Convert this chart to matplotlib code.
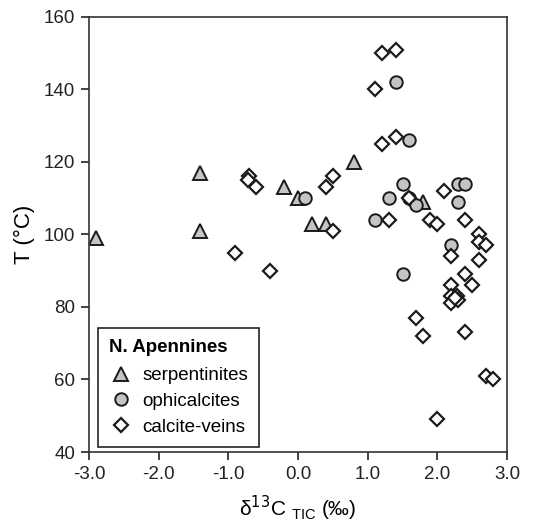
import matplotlib
matplotlib.use("Agg")
import matplotlib.pyplot as plt
from matplotlib.ticker import FormatStrFormatter

plt.rcParams['font.family'] = ['Liberation Sans', 'DejaVu Sans']
plt.rcParams['axes.unicode_minus'] = False

# serpentinites
serp_x = [-2.9, -1.4, -1.4, -0.2, 0.0, 0.2, 0.4, 0.8, 1.8]
serp_t = [99, 117, 101, 113, 110, 103, 103, 120, 109]

# ophicalcites
oph_x = [0.1, 1.1, 1.3, 1.4, 1.6, 1.5, 1.6, 1.7, 1.5, 2.2, 2.3, 2.4, 2.3]
oph_t = [110, 104, 110, 142, 126, 114, 110, 108, 89, 97, 114, 114, 109]

# calcite veins
vein_x = [1.2, 1.4, 1.1, 1.2, 1.4, -0.7, -0.72, -0.6, 0.4, 0.5, 0.5, -0.9, -0.4,
          1.3, 1.6, 1.9, 2.0, 2.1, 2.4, 2.6, 2.6, 2.7, 2.6, 2.2, 2.4, 2.2, 2.5,
          2.2, 2.2, 2.28, 2.3, 2.25, 1.7, 1.8, 2.4, 2.7, 2.8, 2.0]
vein_t = [150, 151, 140, 125, 127, 116, 115, 113, 113, 116, 101, 95, 90,
          104, 110, 104, 103, 112, 104, 100, 98, 97, 93, 94, 89, 86, 86,
          83, 81, 83, 82, 82.5, 77, 72, 73, 61, 60, 49]

fig = plt.figure(figsize=(5.35, 5.24), dpi=100)
ax = fig.add_axes([0.1664, 0.1374, 0.7813, 0.8302])

edge = '#1a1a1a'
fill = '#c4c4c4'
ax.plot(serp_x, serp_t, ls='none', marker='^', ms=10, mfc=fill, mec=edge, mew=1.4,
        label='serpentinites')
ax.plot(oph_x, oph_t, ls='none', marker='o', ms=9, mfc=fill, mec=edge, mew=1.4,
        label='ophicalcites')
ax.plot(vein_x, vein_t, ls='none', marker='D', ms=7.5, mfc='white', mec=edge, mew=1.6,
        label='calcite-veins')

ax.set_xlim(-3, 3)
ax.set_ylim(40, 160)
ax.set_xticks([-3, -2, -1, 0, 1, 2, 3])
ax.set_yticks([40, 60, 80, 100, 120, 140, 160])
ax.xaxis.set_major_formatter(FormatStrFormatter('%.1f'))
ax.tick_params(direction='out', length=6, width=1.2, labelsize=13.5, colors='#222222', pad=4)
for s in ax.spines.values():
    s.set_color('#333333')
    s.set_linewidth(1.2)

ax.set_ylabel('T (°C)', fontsize=16, labelpad=6)
ax.set_xlabel(r'δ$^{13}$C $_{\mathregular{TIC}}$ (‰)', fontsize=15, labelpad=8)

# legend box in the lower left corner
leg = ax.legend(loc='lower left', bbox_to_anchor=(0.022, 0.012), borderaxespad=0,
                title='N. Apennines',
                fontsize=13.5, title_fontproperties={'weight': 'bold', 'size': 13.5},
                fancybox=False, edgecolor='#222222', framealpha=1,
                handlelength=1.2, handletextpad=0.55, borderpad=0.6, labelspacing=0.45)
leg._legend_box.align = 'left'
leg._legend_box.sep = 8
leg.get_frame().set_linewidth(1.2)

fig.savefig('out.png', dpi=100)
